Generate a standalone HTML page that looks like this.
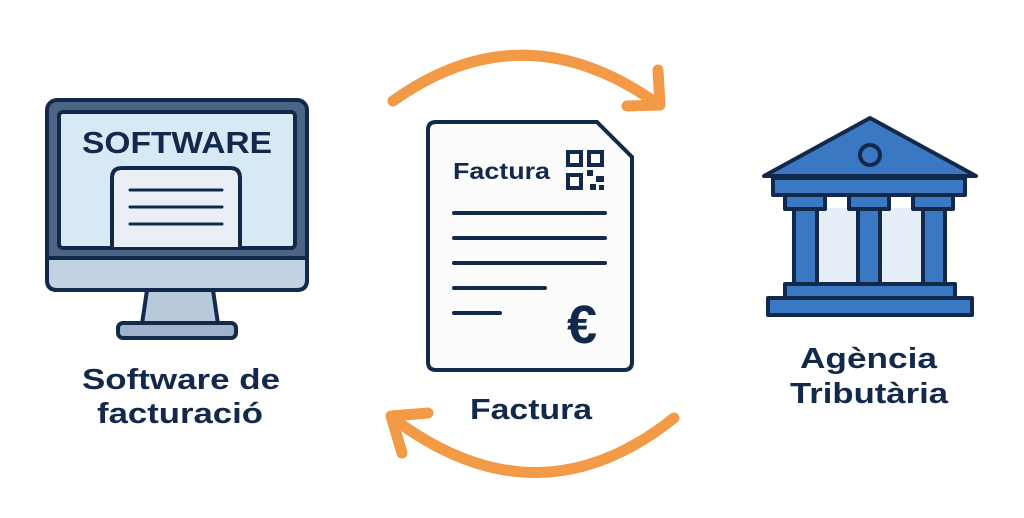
<!DOCTYPE html>
<html><head><meta charset="utf-8"><style>
html,body{margin:0;padding:0;background:#fff;}
svg{display:block;}
text{font-family:"Liberation Sans","DejaVu Sans",sans-serif;font-weight:bold;fill:#13294b;}
</style></head><body>
<svg width="1024" height="518" viewBox="0 0 1024 518" xmlns="http://www.w3.org/2000/svg">
<!-- arrows -->
<g fill="none" stroke="#f29a45" stroke-width="11" stroke-linecap="round" stroke-linejoin="round">
<path d="M393,101 Q520,10 652,100"/>
<path d="M658,70 L660,105 L627,106"/>
<path d="M674,418 Q540,525 398,422"/>
<path d="M428,413 L391,416 L402,453"/>
</g>
<!-- monitor -->
<g stroke="#13294b" stroke-width="4" stroke-linejoin="round">
<path d="M147,290 L213,290 L218,324 L142,324 Z" fill="#b9c9dc"/>
<rect x="118" y="323" width="118" height="15" rx="5" fill="#9fb3cc"/>
<rect x="47" y="100" width="260" height="190" rx="10" fill="#4c6584"/>
<path d="M47,258 L307,258 L307,280 Q307,290 297,290 L57,290 Q47,290 47,280 Z" fill="#c3d2e2"/>
<rect x="59" y="112" width="236" height="136" rx="4" fill="#d8e9f6"/>
<path d="M112,247 L112,178 Q112,168 122,168 L230,168 Q240,168 240,178 L240,247" fill="#e9eff5"/>
</g>
<g stroke="#13294b" stroke-width="3" stroke-linecap="round">
<line x1="130" y1="190" x2="222" y2="190"/><line x1="130" y1="207" x2="222" y2="207"/><line x1="130" y1="224" x2="222" y2="224"/>
</g>
<text x="82" y="153" font-size="31" textLength="190" lengthAdjust="spacingAndGlyphs">SOFTWARE</text>
<text x="82" y="389" font-size="29" textLength="198" lengthAdjust="spacingAndGlyphs">Software de</text>
<text x="97" y="423" font-size="29" textLength="166" lengthAdjust="spacingAndGlyphs">facturació</text>
<!-- invoice -->
<path d="M436,122 L597,122 L632,157 L632,362 Q632,370 624,370 L436,370 Q428,370 428,362 L428,130 Q428,122 436,122 Z" fill="#fcfcfd" stroke="#13294b" stroke-width="4"/>
<text x="453" y="179" font-size="23" textLength="97" lengthAdjust="spacingAndGlyphs">Factura</text>
<g fill="#13294b">
<rect x="566" y="150" width="17" height="17"/><rect x="587" y="150" width="17" height="17"/><rect x="566" y="173" width="17" height="17"/>
<rect x="587" y="170" width="6" height="6"/><rect x="596" y="176" width="8" height="6"/><rect x="590" y="184" width="6" height="6"/><rect x="599" y="185" width="5" height="5"/>
</g>
<g fill="#fff"><rect x="570" y="154" width="9" height="9"/><rect x="591" y="154" width="9" height="9"/><rect x="570" y="177" width="9" height="9"/></g>
<g stroke="#13294b" stroke-width="4" stroke-linecap="round">
<line x1="454" y1="213" x2="605" y2="213"/><line x1="454" y1="238" x2="605" y2="238"/><line x1="454" y1="263" x2="605" y2="263"/><line x1="454" y1="288" x2="545" y2="288"/><line x1="454" y1="313" x2="500" y2="313"/>
</g>
<text x="582" y="343" font-size="54" text-anchor="middle">€</text>
<text x="470" y="419" font-size="29" textLength="122" lengthAdjust="spacingAndGlyphs">Factura</text>
<!-- building -->
<g stroke="#13294b" stroke-width="4" stroke-linejoin="round" fill="#3b78c3">
<rect x="818" y="208" width="40" height="76" fill="#e6eef7" stroke="none"/>
<rect x="880" y="208" width="43" height="76" fill="#e6eef7" stroke="none"/>
<path d="M870,118 L976,176 L764,176 Z"/>
<circle cx="870" cy="155" r="10"/>
<rect x="773" y="178" width="192" height="17"/>
<rect x="785" y="195" width="40" height="14"/><rect x="849" y="195" width="40" height="14"/><rect x="913" y="195" width="40" height="14"/>
<rect x="794" y="209" width="23" height="75"/><rect x="858" y="209" width="22" height="75"/><rect x="923" y="209" width="22" height="75"/>
<rect x="785" y="284" width="170" height="14"/>
<rect x="768" y="298" width="204" height="17"/>
</g>
<text x="800" y="368" font-size="29" textLength="137" lengthAdjust="spacingAndGlyphs">Agència</text>
<text x="790" y="403" font-size="29" textLength="158" lengthAdjust="spacingAndGlyphs">Tributària</text>
</svg>
</body></html>
